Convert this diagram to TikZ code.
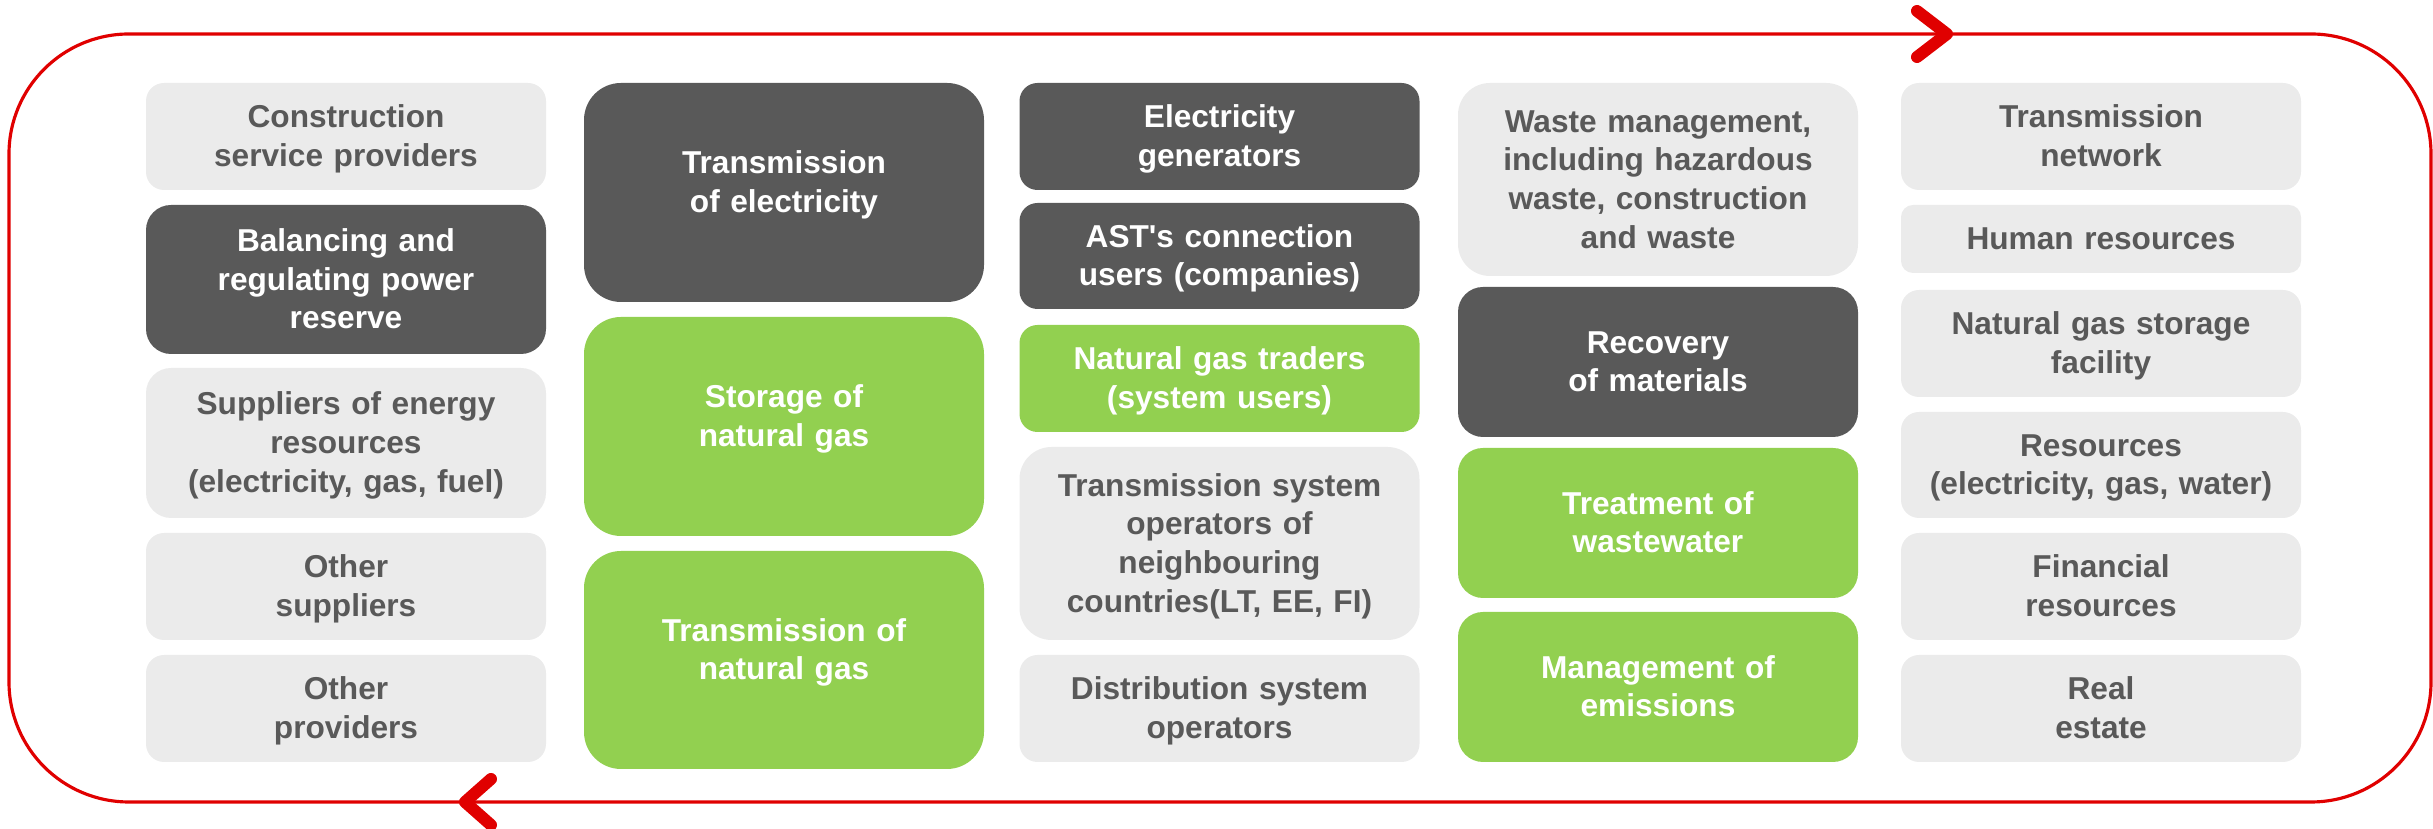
\documentclass[tikz,border=0pt]{standalone}
\usepackage{fontspec}
\setmainfont{Liberation Sans}
\usetikzlibrary{positioning}

\definecolor{paleGray}{HTML}{EBEBEB}
\definecolor{slateGray}{HTML}{595959}
\definecolor{leafGreen}{HTML}{92D050}
\definecolor{cycleRed}{HTML}{E00000}

\tikzset{
  box/.style={rounded corners=1.8mm, minimum width=40mm, text width=38mm,
    align=center, inner sep=0pt, font=\bfseries\fontsize{9}{11}\selectfont,
    execute at begin node={\rule{0pt}{8pt}},
    execute at end node={\rule[-2pt]{0pt}{2pt}}},
  lightbox/.style={box, fill=paleGray, text=slateGray},
  darkbox/.style={box, fill=slateGray, text=white},
  greenbox/.style={box, fill=leafGreen, text=white},
  lift/.style={execute at end node={\rule[-7.8pt]{0pt}{7.8pt}}},
  chevron/.style={draw=cycleRed, line width=1.2mm, line cap=round, line join=round}
}

\begin{document}
\begin{tikzpicture}[x=0.1mm, y=-0.1mm]
    \clip (0,0) rectangle (2433,829);
    \useasboundingbox (0,0) rectangle (2433,829);

    % cycle frame
    \draw[cycleRed, line width=0.9pt, rounded corners=12mm] (9,34) rectangle (2431,802);
    \draw[chevron] (1917,11) -- (1947,34) -- (1917,57);
    \draw[chevron] (491,779) -- (465,802) -- (491,825);

    % suppliers
    \node[lightbox, minimum height=10.7mm] (constr) at (346,136.5) {Construction\\service providers};
    \node[darkbox, minimum height=14.9mm, rounded corners=2.5mm] (balance) at (346,279.5) {Balancing and\\regulating power\\reserve};
    \node[lightbox, minimum height=15mm, rounded corners=2.5mm] (energy) at (346,443) {Suppliers of energy\\resources\\(electricity, gas, fuel)};
    \node[lightbox, minimum height=10.7mm] (othsup) at (346,586.5) {Other\\suppliers};
    \node[lightbox, minimum height=10.7mm] (othprov) at (346,708.5) {Other\\providers};

    % core activities
    \node[darkbox, lift, minimum height=21.9mm, rounded corners=3.7mm] (transel) at (784,192.5) {Transmission\\of electricity};
    \node[greenbox, lift, minimum height=21.9mm, rounded corners=3.7mm] (storage) at (784,426.5) {Storage of\\natural gas};
    \node[greenbox, lift, minimum height=21.8mm, rounded corners=3.7mm] (transgas) at (784,660) {Transmission of\\natural gas};

    % customers
    \node[darkbox, minimum height=10.7mm] (elgen) at (1219.5,136.5) {Electricity\\generators};
    \node[darkbox, minimum height=10.6mm] (users) at (1219.5,256) {AST\textquotesingle s connection\\users (companies)};
    \node[greenbox, minimum height=10.7mm] (traders) at (1219.5,378.5) {Natural gas traders\\(system users)};
    \node[lightbox, minimum height=19.3mm, rounded corners=3.2mm] (tso) at (1219.5,543.5) {Transmission system\\operators of\\neighbouring\\countries(LT, EE, FI)};
    \node[lightbox, minimum height=10.7mm] (dso) at (1219.5,708.5) {Distribution system\\operators};

    % outputs
    \node[lightbox, minimum height=19.3mm, rounded corners=3.2mm] (waste) at (1658,179.5) {Waste management,\\including hazardous\\waste, construction\\and waste};
    \node[darkbox, minimum height=15mm, rounded corners=2.5mm] (recovery) at (1658,362) {Recovery\\of materials};
    \node[greenbox, minimum height=15mm, rounded corners=2.5mm] (water) at (1658,523) {Treatment of\\wastewater};
    \node[greenbox, minimum height=15mm, rounded corners=2.5mm] (emis) at (1658,687) {Management of\\emissions};

    % resources
    \node[lightbox, minimum height=10.7mm] (network) at (2101,136.5) {Transmission\\network};
    \node[lightbox, minimum height=6.8mm, rounded corners=1.2mm] (human) at (2101,239) {Human resources};
    \node[lightbox, minimum height=10.7mm] (facility) at (2101,343.5) {Natural gas storage\\facility};
    \node[lightbox, minimum height=10.6mm] (utility) at (2101,465) {Resources\\(electricity, gas, water)};
    \node[lightbox, minimum height=10.7mm] (finance) at (2101,586.5) {Financial\\resources};
    \node[lightbox, minimum height=10.7mm] (estate) at (2101,708.5) {Real\\estate};
\end{tikzpicture}
\end{document}
